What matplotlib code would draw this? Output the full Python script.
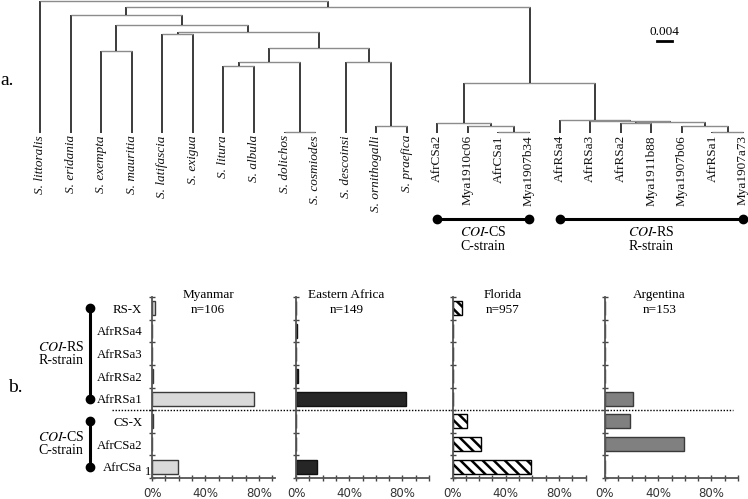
import numpy as np
import matplotlib
matplotlib.use('Agg')
import matplotlib.pyplot as plt
from matplotlib.transforms import blended_transform_factory

plt.rcParams.update({
    'font.family': 'Liberation Serif',
    'mathtext.fontset': 'stix',
    'hatch.linewidth': 1.8,
})

# ── Tree (depth from root, substitutions/site) ────────────────────────────
LEAF_DEPTH = 0.0355
C_CLADE = (0.0328, 'AfrCSa2', (0.0336, 'Mya1910c06', (0.0352, 'AfrCSa1', 'Mya1907b34')))
R_CLADE = (0.0320, 'AfrRSa4', (0.0323, 'AfrRSa3',
           (0.0325, (0.0328, 'AfrRSa2', 'Mya1911b88'),
                    (0.0336, 'Mya1907b06', (0.0352, 'AfrRSa1', 'Mya1907a73')))))
SPOD = (0.0041, 'S. eridania',
        (0.0067, (0.0136, 'S. exempta', 'S. mauritia'),
         (0.0085, (0.0091, 'S. latifascia', 'S. exigua'),
          (0.0128, (0.0165, (0.0177, 'S. litura', 'S. albula'),
                            (0.0352, 'S. dolichos', 'S. cosmiodes')),
                   (0.0165, 'S. descoinsi', (0.0336, 'S. ornithogalli', 'S. praefica'))))))
TREE = (0.0002, 'S. littoralis', (0.0019, SPOD, (0.0221, C_CLADE, R_CLADE)))
SCALE = 0.004

# ── Haplotype frequencies (bottom to top) ─────────────────────────────────
CATS = ['AfrCSa', 'AfrCSa2', 'CS-X', 'AfrRSa1', 'AfrRSa2', 'AfrRSa3', 'AfrRSa4', 'RS-X']
REGIONS = ['Myanmar', 'Eastern Africa', 'Florida', 'Argentina']
N_SAMPLES = [106, 149, 957, 153]
myanmar   = [0.195, 0.0,   0.009, 0.762, 0.009, 0.0, 0.0,   0.025]
e_africa  = [0.155, 0.0,   0.0,   0.826, 0.013, 0.0, 0.007, 0.0]
florida   = [0.593, 0.213, 0.107, 0.005, 0.0,   0.0, 0.0,   0.075]
argentina = [0.0,   0.595, 0.190, 0.213, 0.0,   0.0, 0.0,   0.0]
FREQS = [myanmar, e_africa, florida, argentina]

W, H = 748, 499
fig = plt.figure(figsize=(W / 100, H / 100), dpi=100)

# ── a. dendrogram ─────────────────────────────────────────────────────────
DPP = SCALE / 15.0          # depth per pixel
X0, DX = 40.0, 30.565       # first leaf pixel, leaf spacing
axt = fig.add_axes([0, 0, 1, 1])
axt.set_xlim(-X0 / DX, (W - X0) / DX)
axt.set_ylim(H * DPP, 0)
axt.axis('off')

leaves = []

def layout(node):
    if isinstance(node, str):
        leaves.append(node)
        return len(leaves) - 1, LEAF_DEPTH
    d, left, right = node
    xl, dl = layout(left)
    xr, dr = layout(right)
    for xc, dc in ((xl, dl), (xr, dr)):
        axt.plot([xc, xc], [d, dc], color='#1a1a1a', lw=1.2, solid_capstyle='butt')
    axt.plot([xl, xr], [d, d], color='#8c8c8c', lw=1.0, solid_capstyle='butt')
    return (xl + xr) / 2, d

layout(TREE)

for i, name in enumerate(leaves):
    style = 'italic' if name.startswith('S. ') else 'normal'
    axt.text(i, LEAF_DEPTH + 2 * DPP, name, rotation=90, ha='center', va='top',
             fontsize=9.5, style=style, color='#111111')

# strain brackets under the tree
y_br = 219 * DPP
for first, last, top, bot in [('AfrCSa2', 'Mya1907b34', r'$\mathit{COI}$-CS', 'C-strain'),
                              ('AfrRSa4', 'Mya1907a73', r'$\mathit{COI}$-RS', 'R-strain')]:
    i0, i1 = leaves.index(first), leaves.index(last)
    axt.plot([i0, i1], [y_br, y_br], color='black', lw=2.2, marker='o', ms=6,
             markevery=[0, 1])
    axt.text((i0 + i1) / 2, 232 * DPP, top, ha='center', va='center', fontsize=10)
    axt.text((i0 + i1) / 2, 246 * DPP, bot, ha='center', va='center', fontsize=10)

# overlay in pixel coordinates for panel letters and scale bar
axo = fig.add_axes([0, 0, 1, 1], zorder=5)
axo.set_xlim(0, W)
axo.set_ylim(H, 0)
axo.axis('off')
axo.patch.set_alpha(0)
axo.text(0, 80, 'a.', fontsize=14, va='center', ha='left')
axo.text(8, 388, 'b.', fontsize=14, va='center', ha='left')
sb = SCALE / DPP
axo.plot([664.5 - sb / 2, 664.5 + sb / 2], [41, 41], color='black', lw=2)
axo.text(664.5, 32, f'{SCALE:.3f}', ha='center', va='center', fontsize=9.5)
axo.text(148, 472, '1', ha='center', va='center', fontsize=9)

# ── b. haplotype frequency panels ────────────────────────────────────────
AX_X = [(152, 275, 0.92), (296, 429, 1.0), (452.5, 585.5, 1.0), (605, 738, 1.0)]
TOP, BOT = 297, 478
TITLE_X = [0.42, 0.38, 0.38, 0.41]
STYLES = [
    dict(color='#d9d9d9', edgecolor='#3a3a3a'),
    dict(color='#262626', edgecolor='#111111'),
    dict(color='white', edgecolor='black', hatch='\\\\\\'),
    dict(color='#808080', edgecolor='#3a3a3a'),
]
ypos = np.arange(len(CATS))
unit = (BOT - TOP) / len(CATS)   # pixels per category
axes = []
for k, (x0, x1, xmax) in enumerate(AX_X):
    ax = fig.add_axes([x0 / W, (H - BOT) / H, (x1 - x0) / W, (BOT - TOP) / H])
    ax.barh(ypos, FREQS[k], height=0.62, linewidth=1.0, **STYLES[k])
    ax.set_ylim(-0.5, len(CATS) - 0.5)
    ax.set_xlim(0, xmax)
    for s in ('top', 'right'):
        ax.spines[s].set_visible(False)
    for s in ('left', 'bottom'):
        ax.spines[s].set_color('#555555')
        ax.spines[s].set_linewidth(1.3)
    ax.patch.set_alpha(0)
    xt = np.arange(0, xmax + 1e-9, 0.1)
    ax.set_xticks(xt)
    ax.set_xticklabels([f'{v:.0%}' if round(v * 100) % 40 == 0 else '' for v in xt],
                       family='DejaVu Sans', fontsize=8.5, color='#333333')
    ax.tick_params(axis='x', direction='inout', length=5, width=1.0, color='#444444', pad=4)
    ax.set_yticks(ypos)
    ax.set_yticks(np.arange(-0.5, len(CATS)), minor=True)
    ax.tick_params(axis='y', which='major', length=0, pad=7)
    ax.tick_params(axis='y', which='minor', direction='inout', length=5, width=1.0,
                   color='#444444')
    if k == 0:
        ax.set_yticklabels(CATS, fontsize=9.3)
    else:
        ax.set_yticklabels([])
    top_y = len(CATS) - 0.5
    ax.text(TITLE_X[k], top_y + 2 / unit, REGIONS[k], ha='center', va='center', fontsize=9.5)
    ax.text(TITLE_X[k], top_y - 13 / unit, f'n={N_SAMPLES[k]}', ha='center', va='center',
            fontsize=9.5)
    axes.append(ax)

ax0 = axes[0]
bt = blended_transform_factory(fig.transFigure, ax0.transData)
# dotted separator between C- and R-strain haplotypes
ax0.plot([112 / W, 733 / W], [2.5, 2.5], transform=bt, color='black', lw=1.0,
         ls=(0, (1, 1.2)), clip_on=False, zorder=6)
# group brackets at the left
for lo, hi, top, bot in [(3, 7, r'$\mathit{COI}$-RS', 'R-strain'),
                         (0, 2, r'$\mathit{COI}$-CS', 'C-strain')]:
    ax0.plot([90 / W, 90 / W], [lo, hi], transform=bt, color='black', lw=2.2,
             marker='o', ms=6, clip_on=False)
    mid = (lo + hi) / 2
    ax0.text(61 / W, mid + 0.3, top, transform=bt, ha='center', va='center', fontsize=10)
    ax0.text(61 / W, mid - 0.3, bot, transform=bt, ha='center', va='center', fontsize=10)

fig.savefig('out.png', dpi=100)
